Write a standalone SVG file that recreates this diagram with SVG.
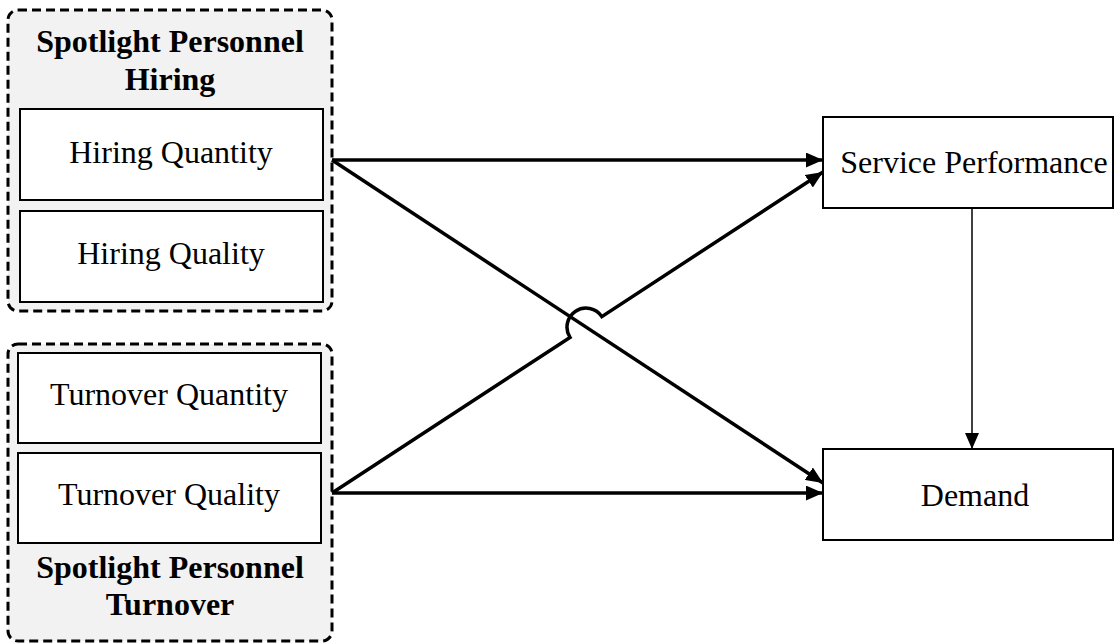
<svg xmlns="http://www.w3.org/2000/svg" width="1118" height="644" viewBox="0 0 1118 644">
  <style>
    .group { fill: #f2f2f2; stroke: #000; stroke-width: 3; stroke-dasharray: 9 5; }
    .box { fill: #fff; stroke: #000; stroke-width: 2; }
    .label { font-family: "Liberation Serif", "Times New Roman", serif; font-size: 32px; fill: #000; text-anchor: middle; }
    .title { font-family: "Liberation Serif", "Times New Roman", serif; font-size: 32px; font-weight: bold; fill: #000; text-anchor: middle; }
    .link { fill: none; stroke: #000; stroke-width: 3.5; }
    .thin { fill: none; stroke: #000; stroke-width: 1.5; }
  </style>
  <defs>
    <marker id="arrow" viewBox="0 0 16 14" refX="16" refY="7" markerWidth="17" markerHeight="15" markerUnits="userSpaceOnUse" orient="auto">
      <path d="M0,0 L16,7 L0,14 Z" fill="#000"/>
    </marker>
    <marker id="arrow-thin" viewBox="0 0 16 14" refX="16" refY="7" markerWidth="16" markerHeight="14" markerUnits="userSpaceOnUse" orient="auto">
      <path d="M0,0 L16,7 L0,14 Z" fill="#000"/>
    </marker>
  </defs>

  <!-- Hiring group -->
  <g id="hiring-group">
    <rect class="group" x="8" y="10" width="324" height="301" rx="10"/>
    <text class="title" x="170" y="52">Spotlight Personnel</text>
    <text class="title" x="170" y="90">Hiring</text>
  </g>
  <g id="hiring-quantity">
    <rect class="box" x="20" y="109" width="303" height="91"/>
    <text class="label" x="171" y="163">Hiring Quantity</text>
  </g>
  <g id="hiring-quality">
    <rect class="box" x="20" y="211" width="303" height="91"/>
    <text class="label" x="171" y="264">Hiring Quality</text>
  </g>

  <!-- Turnover group -->
  <g id="turnover-group">
    <rect class="group" x="8" y="344" width="324" height="297" rx="10"/>
    <text class="title" x="170" y="578">Spotlight Personnel</text>
    <text class="title" x="170" y="615">Turnover</text>
  </g>
  <g id="turnover-quantity">
    <rect class="box" x="18" y="353" width="303" height="90"/>
    <text class="label" x="169" y="405">Turnover Quantity</text>
  </g>
  <g id="turnover-quality">
    <rect class="box" x="18" y="453" width="303" height="90"/>
    <text class="label" x="169" y="505">Turnover Quality</text>
  </g>

  <!-- Outcomes -->
  <g id="service-performance">
    <rect class="box" x="823" y="117" width="290" height="91"/>
    <text class="label" x="974" y="173">Service Performance</text>
  </g>
  <g id="demand">
    <rect class="box" x="823" y="449" width="290" height="91"/>
    <text class="label" x="975" y="506">Demand</text>
  </g>

  <!-- Connectors -->
  <g id="connectors">
    <line class="link" x1="332" y1="160" x2="823" y2="160" marker-end="url(#arrow)"/>
    <line class="link" x1="332" y1="160" x2="823" y2="483" marker-end="url(#arrow)"/>
    <line class="link" x1="332" y1="493" x2="823" y2="493" marker-end="url(#arrow)"/>
    <!-- line hop where the rising link crosses the falling one -->
    <path class="link" d="M332,493 L570,337.4 A19,19 0 0 1 601.8,316.6 L823,172" marker-end="url(#arrow)"/>
    <line class="thin" x1="972" y1="208" x2="972" y2="449" marker-end="url(#arrow-thin)"/>
  </g>
</svg>
